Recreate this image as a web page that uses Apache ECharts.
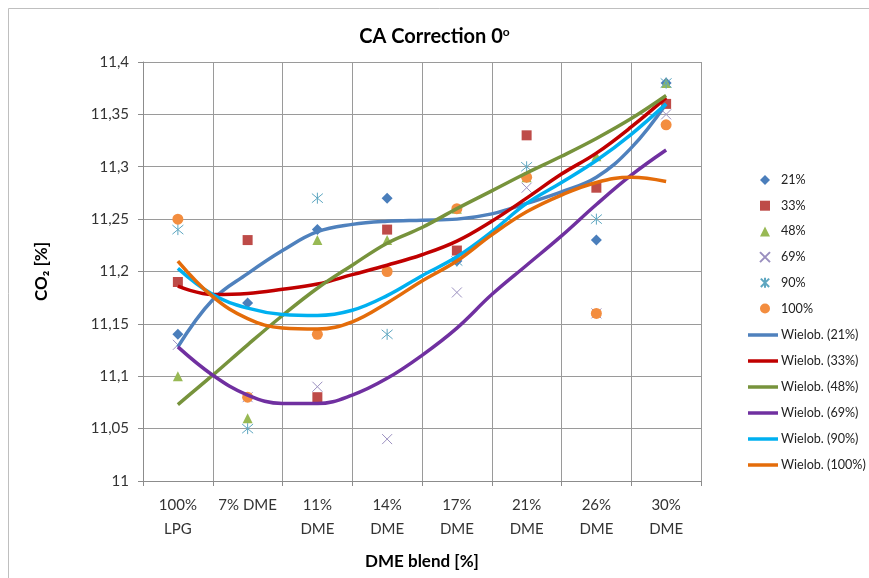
<!DOCTYPE html>
<html>
<head>
<meta charset="utf-8">
<script src="https://cdn.jsdelivr.net/npm/echarts@6/dist/echarts.min.js"></script>
<style>
html,body{margin:0;padding:0;background:#fff;}
#chart{width:869px;height:578px;}
</style>
</head>
<body>
<div id="chart"></div>
<script>
// ---- data ----
const categories = ['100%\nLPG', '7% DME', '11%\nDME', '14%\nDME', '17%\nDME', '21%\nDME', '26%\nDME', '30%\nDME'];
const seriesNames = ['21%', '33%', '48%', '69%', '90%', '100%'];
const s21  = [11.14, 11.17, 11.24, 11.27, 11.21, 11.29, 11.23, 11.38];
const s33  = [11.19, 11.23, 11.08, 11.24, 11.22, 11.33, 11.28, 11.36];
const s48  = [11.10, 11.06, 11.23, 11.23, 11.26, 11.29, 11.31, 11.38];
const s69  = [11.13, 11.08, 11.09, 11.04, 11.18, 11.28, 11.16, 11.35];
const s90  = [11.24, 11.05, 11.27, 11.14, 11.21, 11.30, 11.25, 11.38];
const s100 = [11.25, 11.08, 11.14, 11.20, 11.26, 11.29, 11.16, 11.34];

// trendlines (polynomial at half-category steps)
const trendX = [1, 1.5, 2, 2.5, 3, 3.5, 4, 4.5, 5, 5.5, 6, 6.5, 7, 7.5, 8];
const t21  = [11.128, 11.173, 11.198, 11.220, 11.238, 11.245, 11.248, 11.249, 11.250, 11.255, 11.265, 11.276, 11.290, 11.318, 11.360];
const t33  = [11.186, 11.178, 11.179, 11.183, 11.188, 11.197, 11.206, 11.216, 11.229, 11.248, 11.270, 11.293, 11.313, 11.338, 11.366];
const t48  = [11.073, 11.101, 11.130, 11.158, 11.184, 11.206, 11.227, 11.242, 11.260, 11.277, 11.294, 11.310, 11.327, 11.346, 11.368];
const t69  = [11.128, 11.101, 11.082, 11.074, 11.074, 11.082, 11.098, 11.120, 11.146, 11.178, 11.206, 11.234, 11.264, 11.292, 11.316];
const t90  = [11.203, 11.178, 11.165, 11.159, 11.158, 11.163, 11.177, 11.196, 11.214, 11.238, 11.265, 11.285, 11.306, 11.331, 11.360];
const t100 = [11.210, 11.176, 11.155, 11.146, 11.145, 11.152, 11.170, 11.191, 11.210, 11.235, 11.257, 11.273, 11.285, 11.290, 11.286];
const trendNames = ['Wielob. (21%)', 'Wielob. (33%)', 'Wielob. (48%)', 'Wielob. (69%)', 'Wielob. (90%)', 'Wielob. (100%)'];

const yMin = 11, yMax = 11.4, yStep = 0.05;

// ---- styles ----
const FONT = 'Lato, "Noto Sans", sans-serif';
const scatterDefs = [
  {data: s21,  symbol: 'diamond',  size: 11, style: {color: '#4A7EBB', opacity: 1}},
  {data: s33,  symbol: 'rect',     size: 10, style: {color: '#BE4B48', opacity: 1}},
  {data: s48,  symbol: 'triangle', size: 10, style: {color: '#98B954', opacity: 1}},
  {data: s69,  symbol: 'path://M0,0L10,10M10,0L0,10', size: 10, style: {color: 'rgba(0,0,0,0)', borderColor: '#9A8FBF', borderWidth: 1, opacity: 1}},
  {data: s90,  symbol: 'path://M0,0L10,10M10,0L0,10M5,-1L5,11', size: 11, style: {color: 'rgba(0,0,0,0)', borderColor: '#5DA6C0', borderWidth: 1, opacity: 1}},
  {data: s100, symbol: 'circle',   size: 11, style: {color: '#F38D3F', opacity: 1}}
];
const trendDefs = [
  {data: t21,  color: '#4F81BD'},
  {data: t33,  color: '#C00000'},
  {data: t48,  color: '#77933C'},
  {data: t69,  color: '#7030A0'},
  {data: t90,  color: '#00B0F0'},
  {data: t100, color: '#E46C0A'}
];

const series = [];
scatterDefs.forEach((d, i) => {
  series.push({
    name: seriesNames[i], type: 'scatter', xAxisIndex: 0, yAxisIndex: 0,
    symbol: d.symbol, symbolSize: d.size, itemStyle: d.style, z: 3,
    data: d.data
  });
});
trendDefs.forEach((d, i) => {
  series.push({
    name: trendNames[i], type: 'line', xAxisIndex: 1, yAxisIndex: 0,
    smooth: 0.4, symbol: 'none', showSymbol: false, z: 4,
    lineStyle: {color: d.color, width: 3.5}, itemStyle: {color: d.color},
    data: trendX.map((x, j) => [x, d.data[j]])
  });
});

const legendText = {fontFamily: FONT, fontSize: 12.6, color: '#222', lineHeight: 14};

const chart = echarts.init(document.getElementById('chart'), null, {renderer: 'canvas'});
chart.setOption({
  animation: false,
  textStyle: {fontFamily: FONT},
  graphic: [{
    type: 'rect', left: 6, top: 6, silent: true, z: -1,
    shape: {x: 0, y: 0, width: 900, height: 600},
    style: {fill: 'none', stroke: '#BFBFBF', lineWidth: 1}
  }],
  title: {
    text: '{a|CA Correction 0}{s|o}',
    left: 'center', top: 19,
    textStyle: {
      rich: {
        a: {fontFamily: FONT, fontSize: 20, fontWeight: 'bold', color: '#000', lineHeight: 26},
        s: {fontFamily: FONT, fontSize: 12, fontWeight: 'bold', color: '#000', padding: [0, 0, 10, 0], lineHeight: 26}
      }
    }
  },
  legend: [{
    orient: 'vertical', left: 754, top: 168, width: 110,
    itemWidth: 10, itemHeight: 10, itemGap: 11.7,
    textStyle: Object.assign({padding: [0, 0, 0, 6]}, legendText),
    data: seriesNames
  }, {
    orient: 'vertical', left: 743, top: 323, width: 125,
    itemWidth: 30, itemHeight: 3.5, itemGap: 12,
    icon: 'rect',
    textStyle: Object.assign({padding: [0, 0, 0, -2]}, legendText),
    data: trendNames
  }],
  grid: {left: 143, right: 168, top: 62, bottom: 97, containLabel: false},
  xAxis: [{
    type: 'category', data: categories, boundaryGap: true,
    axisLine: {lineStyle: {color: '#8C8C8C', width: 1}},
    axisTick: {show: true, length: 5, lineStyle: {color: '#8C8C8C'}},
    splitLine: {show: true, lineStyle: {color: '#9A9A9A', width: 1}},
    axisLabel: {fontFamily: FONT, fontSize: 15, color: '#333', lineHeight: 24, margin: 12, interval: 0},
    name: 'DME blend [%]', nameLocation: 'middle', nameGap: 72,
    nameTextStyle: {fontFamily: FONT, fontSize: 17, fontWeight: 'bold', color: '#000'}
  }, {
    type: 'value', min: 0.5, max: 8.5, show: false
  }],
  yAxis: [{
    type: 'value', min: yMin, max: yMax, interval: yStep,
    axisLine: {show: true, lineStyle: {color: '#8C8C8C'}},
    axisTick: {show: true, length: 5, lineStyle: {color: '#8C8C8C'}},
    splitLine: {show: true, lineStyle: {color: '#9A9A9A', width: 1}},
    axisLabel: {
      fontFamily: FONT, fontSize: 15, color: '#333', margin: 14,
      formatter: v => (Math.round(v * 100) / 100).toString().replace('.', ',')
    },
    name: 'CO₂ [%]', nameLocation: 'middle', nameGap: 93, nameRotate: 90,
    nameTextStyle: {fontFamily: FONT, fontSize: 17, fontWeight: 'bold', color: '#000'}
  }],
  series: series
});
</script>
</body>
</html>
